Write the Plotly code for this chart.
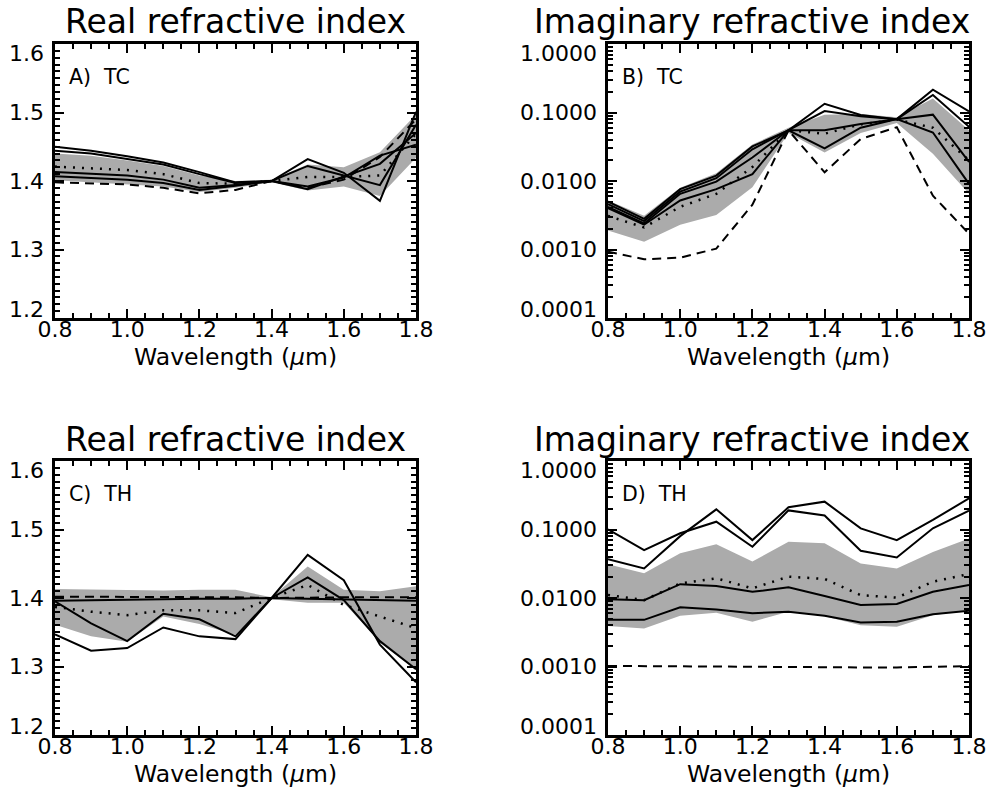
import math
import plotly.graph_objects as go

wavelength = [0.8, 0.9, 1.0, 1.1, 1.2, 1.3, 1.4, 1.5, 1.6, 1.7, 1.8]

# A) TC real refractive index
A_band_hi = [1.440, 1.437, 1.430, 1.422, 1.408, 1.400, 1.402, 1.424, 1.420, 1.442, 1.497]
A_band_lo = [1.401, 1.398, 1.396, 1.392, 1.384, 1.390, 1.398, 1.386, 1.392, 1.378, 1.434]
A_sol1 = [1.450, 1.444, 1.436, 1.427, 1.413, 1.398, 1.400, 1.432, 1.412, 1.371, 1.501]
A_sol2 = [1.444, 1.440, 1.432, 1.424, 1.410, 1.397, 1.400, 1.422, 1.408, 1.394, 1.482]
A_sol3 = [1.413, 1.411, 1.408, 1.402, 1.390, 1.394, 1.400, 1.392, 1.405, 1.437, 1.453]
A_sol4 = [1.407, 1.405, 1.402, 1.397, 1.387, 1.393, 1.400, 1.388, 1.407, 1.425, 1.470]
A_dot = [1.421, 1.419, 1.416, 1.410, 1.397, 1.396, 1.400, 1.406, 1.406, 1.408, 1.469]
A_dash = [1.398, 1.397, 1.395, 1.390, 1.382, 1.387, 1.400, 1.390, 1.402, 1.435, 1.490]

# B) TC imaginary refractive index
B_band_hi = [0.0052, 0.0031, 0.0080, 0.013, 0.034, 0.060, 0.093, 0.095, 0.085, 0.16, 0.055]
B_band_lo = [0.0019, 0.0013, 0.0023, 0.0032, 0.0081, 0.050, 0.026, 0.050, 0.070, 0.025, 0.0065]
B_sol1 = [0.0050, 0.0028, 0.0076, 0.012, 0.032, 0.055, 0.134, 0.092, 0.080, 0.215, 0.104]
B_sol2 = [0.0046, 0.0026, 0.0070, 0.011, 0.029, 0.055, 0.105, 0.088, 0.080, 0.180, 0.062]
B_sol3 = [0.0042, 0.0024, 0.0065, 0.0098, 0.022, 0.055, 0.055, 0.068, 0.080, 0.093, 0.019]
B_sol4 = [0.0040, 0.0023, 0.0052, 0.0076, 0.0126, 0.055, 0.030, 0.060, 0.080, 0.051, 0.0091]
B_dot = [0.0031, 0.0021, 0.0042, 0.0065, 0.016, 0.055, 0.049, 0.067, 0.079, 0.060, 0.020]
B_dash = [0.00093, 0.00072, 0.00076, 0.00103, 0.0045, 0.055, 0.0134, 0.041, 0.061, 0.0061, 0.0017]

# C) TH real refractive index
C_band_hi = [1.413, 1.412, 1.411, 1.411, 1.412, 1.412, 1.401, 1.446, 1.412, 1.410, 1.417]
C_band_lo = [1.361, 1.344, 1.336, 1.373, 1.362, 1.346, 1.398, 1.393, 1.393, 1.336, 1.295]
C_sol1 = [1.396, 1.397, 1.397, 1.398, 1.399, 1.399, 1.400, 1.399, 1.398, 1.396, 1.396]
C_sol2 = [1.395, 1.363, 1.337, 1.377, 1.369, 1.344, 1.400, 1.430, 1.397, 1.337, 1.296]
C_sol3 = [1.347, 1.323, 1.327, 1.357, 1.344, 1.340, 1.400, 1.463, 1.426, 1.332, 1.277]
C_dot = [1.387, 1.380, 1.375, 1.382, 1.382, 1.378, 1.400, 1.419, 1.390, 1.373, 1.356]
C_dash = [1.402, 1.402, 1.402, 1.402, 1.401, 1.401, 1.400, 1.401, 1.401, 1.401, 1.401]

# D) TH imaginary refractive index
D_band_hi = [0.031, 0.023, 0.045, 0.061, 0.034, 0.066, 0.063, 0.032, 0.027, 0.047, 0.074]
D_band_lo = [0.0039, 0.0036, 0.0055, 0.0061, 0.0045, 0.0063, 0.0054, 0.0040, 0.0038, 0.0056, 0.0067]
D_sol1 = [0.0367, 0.027, 0.080, 0.197, 0.070, 0.211, 0.255, 0.104, 0.070, 0.138, 0.285]
D_sol2 = [0.1007, 0.050, 0.088, 0.130, 0.056, 0.190, 0.160, 0.049, 0.039, 0.104, 0.188]
D_sol3 = [0.0096, 0.0093, 0.0159, 0.0150, 0.0123, 0.0143, 0.0107, 0.0079, 0.0082, 0.0123, 0.0155]
D_sol4 = [0.0048, 0.0048, 0.0073, 0.0068, 0.0060, 0.0063, 0.0055, 0.0044, 0.0045, 0.0058, 0.0065]
D_dot = [0.0111, 0.0093, 0.0163, 0.0194, 0.0138, 0.0205, 0.0190, 0.0110, 0.0101, 0.0173, 0.0224]
D_dash = [0.00102, 0.00101, 0.00100, 0.00100, 0.00100, 0.00099, 0.00098, 0.00097, 0.00097, 0.00099, 0.00101]

x_ticks = [0.8, 1.0, 1.2, 1.4, 1.6, 1.8]
real_ticks = [1.2, 1.3, 1.4, 1.5, 1.6]
real_ticktext = ["1.2", "1.3", "1.4", "1.5", "1.6"]
log_ticks = [0.0001, 0.001, 0.01, 0.1, 1.0]
log_ticktext = ["0.0001", "0.0010", "0.0100", "0.1000", "1.0000"]

panels = [
    ("A) TC", "Real refractive index", A_band_lo, A_band_hi, [A_sol1, A_sol2, A_sol3, A_sol4], A_dot, A_dash, False),
    ("B) TC", "Imaginary refractive index", B_band_lo, B_band_hi, [B_sol1, B_sol2, B_sol3, B_sol4], B_dot, B_dash, True),
    ("C) TH", "Real refractive index", C_band_lo, C_band_hi, [C_sol1, C_sol2, C_sol3], C_dot, C_dash, False),
    ("D) TH", "Imaginary refractive index", D_band_lo, D_band_hi, [D_sol1, D_sol2, D_sol3, D_sol4], D_dot, D_dash, True),
]

W, H = 995, 809
FONT = "DejaVu Sans"
# pixel boxes: (left, right, top, bottom)
boxes = [(55, 416, 44, 318), (608, 969, 44, 318), (55, 416, 461, 735), (608, 969, 461, 735)]
title_centers = [235, 752, 235, 752]
title_tops = [0, 0, 418, 418]

fig = go.Figure()
layout = dict(width=W, height=H, margin=dict(l=0, r=0, t=0, b=0, autoexpand=False),
              paper_bgcolor="white", plot_bgcolor="white", showlegend=False,
              font=dict(family=FONT, color="black"))
annotations = []
BAND = "#ABABAB"

common_axis = dict(ticks="inside", ticklen=9, tickwidth=2, tickcolor="black",
                   showline=True, linewidth=2.5, linecolor="black", mirror="allticks",
                   showgrid=False, zeroline=False, automargin=False,
                   tickfont=dict(size=22, family=FONT, color="black"))

for i, (label, title, blo, bhi, sols, dot, dash, islog) in enumerate(panels):
    n = "" if i == 0 else str(i + 1)
    xa, ya = "x" + n, "y" + n
    l, r, t, b = boxes[i]
    xdom = [l / W, r / W]
    ydom = [1 - b / H, 1 - t / H]
    fig.add_trace(go.Scatter(x=wavelength, y=blo, xaxis=xa, yaxis=ya, mode="lines",
                             line=dict(width=0, color=BAND), hoverinfo="skip"))
    fig.add_trace(go.Scatter(x=wavelength, y=bhi, xaxis=xa, yaxis=ya, mode="lines",
                             line=dict(width=0, color=BAND), fill="tonexty",
                             fillcolor=BAND, hoverinfo="skip"))
    fig.add_trace(go.Scatter(x=wavelength, y=dash, xaxis=xa, yaxis=ya, mode="lines",
                             line=dict(width=2, color="black", dash="9px,6px")))
    fig.add_trace(go.Scatter(x=wavelength, y=dot, xaxis=xa, yaxis=ya, mode="lines",
                             line=dict(width=2.5, color="black", dash="2px,7px")))
    for s in sols:
        fig.add_trace(go.Scatter(x=wavelength, y=s, xaxis=xa, yaxis=ya, mode="lines",
                                 line=dict(width=2, color="black")))

    xkey = "xaxis" + n
    ykey = "yaxis" + n
    layout[xkey] = dict(domain=xdom, anchor=ya, range=[0.8, 1.8],
                        tickmode="array", tickvals=x_ticks,
                        ticktext=["%.1f" % v for v in x_ticks],
                        ticklabelstandoff=-10,
                        minor=dict(ticks="inside", ticklen=5, tickwidth=1.5, tickcolor="black",
                                   dtick=0.05, tick0=0.8, showgrid=False),
                        **common_axis)
    if islog:
        minor_vals = [m * 10 ** e for e in range(-4, 0) for m in range(2, 10)]
        yt, ytext = log_ticks, log_ticktext
        layout[ykey] = dict(domain=ydom, anchor=xa, type="log", range=[-4, 0],
                            tickmode="array", tickvals=log_ticks, showticklabels=False,
                            minor=dict(ticks="inside", ticklen=5, tickwidth=1.5, tickcolor="black",
                                       tickmode="array", tickvals=minor_vals, showgrid=False),
                            **common_axis)
    else:
        yt, ytext = real_ticks, real_ticktext
        layout[ykey] = dict(domain=ydom, anchor=xa, range=[1.2, 1.6],
                            tickmode="array", tickvals=real_ticks, showticklabels=False,
                            minor=dict(ticks="inside", ticklen=5, tickwidth=1.5, tickcolor="black",
                                       dtick=0.01, tick0=1.2, showgrid=False),
                            **common_axis)

    # y tick labels (end labels nudged inside the axis extent)
    for k, (v, txt) in enumerate(zip(yt, ytext)):
        shift = 9 if k == 0 else (-9 if k == len(yt) - 1 else 0)
        annotations.append(dict(text=txt, x=0, xref=xa + " domain",
                                y=(math.log10(v) if islog else v), yref=ya,
                                xanchor="right", yanchor="middle", xshift=-9, yshift=shift,
                                showarrow=False, font=dict(size=22, family=FONT, color="black")))

    cx = (l + r) / 2 / W
    annotations.append(dict(text=title, x=title_centers[i] / W, y=1 - title_tops[i] / H,
                            xref="paper", yref="paper",
                            xanchor="center", yanchor="top", showarrow=False,
                            font=dict(size=33, family=FONT, color="black")))
    annotations.append(dict(text="Wavelength (<i>μ</i>m)", x=cx, y=1 - (b + 23) / H,
                            xref="paper", yref="paper", xanchor="center", yanchor="top",
                            showarrow=False, font=dict(size=23.5, family=FONT, color="black")))
    annotations.append(dict(text=label.replace(" ", "&nbsp;&nbsp;"), x=(l + 12) / W, y=1 - (t + 19) / H,
                            xref="paper", yref="paper", xanchor="left", yanchor="top",
                            showarrow=False, font=dict(size=20.5, family=FONT, color="black")))

layout["annotations"] = annotations
fig.update_layout(**layout)
fig.write_html("out.html", config={"displayModeBar": False},
               post_script="document.body.style.margin='0px';")
